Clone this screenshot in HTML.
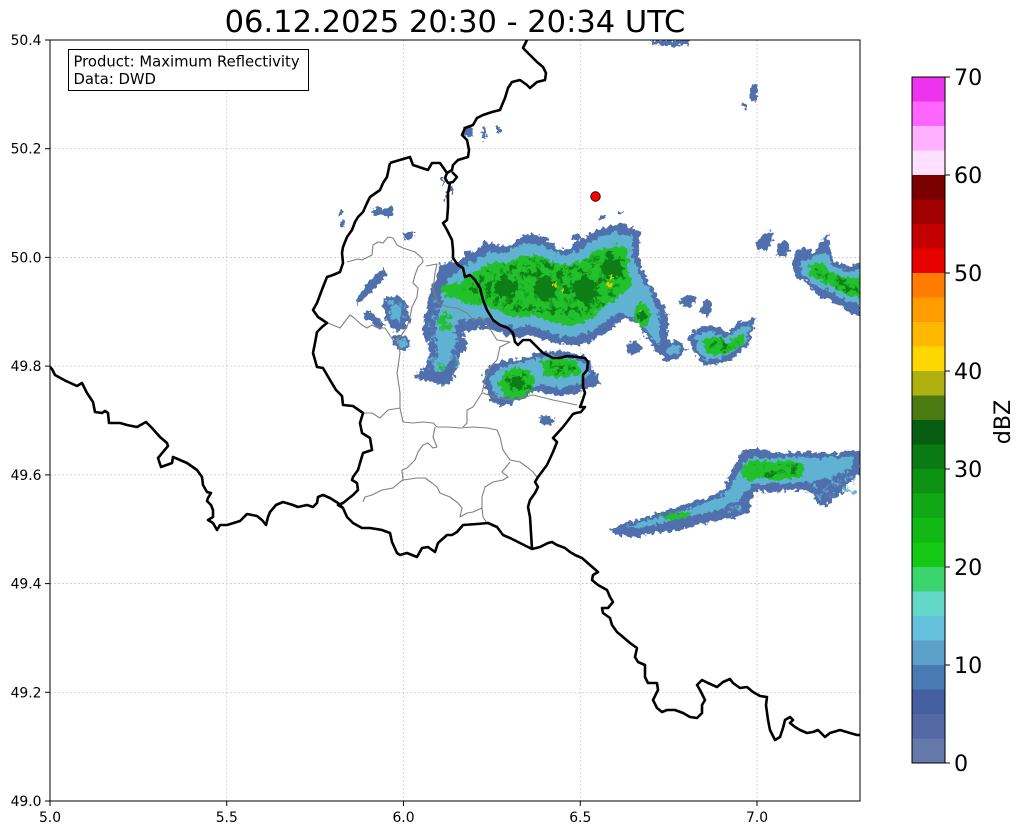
<!DOCTYPE html>
<html><head><meta charset="utf-8"><style>
html,body{margin:0;padding:0;background:#fff;}
svg{display:block;}
text{font-family:"DejaVu Sans","Liberation Sans",sans-serif;fill:#000;}
</style></head><body>
<svg width="1023" height="834" viewBox="0 0 1023 834" xmlns="http://www.w3.org/2000/svg">
<defs>
<filter id="rag" x="-5%" y="-5%" width="110%" height="110%">
<feTurbulence type="fractalNoise" baseFrequency="0.22" numOctaves="2" seed="4" result="n"/>
<feDisplacementMap in="SourceGraphic" in2="n" scale="9" xChannelSelector="R" yChannelSelector="G"/>
</filter>
<filter id="speck" x="0" y="0" width="100%" height="100%">
<feTurbulence type="fractalNoise" baseFrequency="0.14" numOctaves="2" seed="7" result="n"/>
<feColorMatrix in="n" type="matrix" values="0 0 0 0 0  0 0 0 0 0  0 0 0 0 0  7 0 0 0 -3.6" result="m"/>
<feComposite in="SourceGraphic" in2="m" operator="in"/>
</filter>
<filter id="speck2" x="0" y="0" width="100%" height="100%">
<feTurbulence type="fractalNoise" baseFrequency="0.16" numOctaves="2" seed="21" result="n"/>
<feColorMatrix in="n" type="matrix" values="0 0 0 0 0  0 0 0 0 0  0 0 0 0 0  7 0 0 0 -3.8" result="m"/>
<feComposite in="SourceGraphic" in2="m" operator="in"/>
</filter>
<clipPath id="ax"><rect x="50" y="40" width="810" height="761"/></clipPath>
</defs>
<rect width="1023" height="834" fill="#fff"/>
<text x="455" y="32" font-size="30.5" text-anchor="middle">06.12.2025 20:30 - 20:34 UTC</text>

<g clip-path="url(#ax)">
<!-- grid -->
<g stroke="#c4c4c4" stroke-width="0.7" stroke-dasharray="2,2" fill="none">
<line x1="226.75" y1="40" x2="226.75" y2="801"/><line x1="403.5" y1="40" x2="403.5" y2="801"/>
<line x1="580.25" y1="40" x2="580.25" y2="801"/><line x1="757" y1="40" x2="757" y2="801"/>
<line x1="50" y1="148.7" x2="860" y2="148.7"/><line x1="50" y1="257.4" x2="860" y2="257.4"/>
<line x1="50" y1="366.1" x2="860" y2="366.1"/><line x1="50" y1="474.9" x2="860" y2="474.9"/>
<line x1="50" y1="583.6" x2="860" y2="583.6"/><line x1="50" y1="692.3" x2="860" y2="692.3"/>
</g>

<!-- precipitation -->
<g filter="url(#rag)">
<g fill="#5070ac">
<polygon points="428,300 432,285 440,275 447,265 460,260 468,252 478,250 486,242 500,245 510,246 518,238 528,233 540,236 552,242 558,250 566,250 575,243 586,236 600,228 615,224 628,226 640,230 638,250 642,268 650,285 660,300 668,315 668,335 672,352 664,358 655,350 648,338 638,325 628,318 620,322 610,330 600,335 590,342 578,345 565,345 552,342 540,338 528,335 515,338 505,335 495,330 483,327 472,330 462,333 450,330 440,322 432,312"/>
<polygon points="483,373 490,366 507,360 527,357 533,353 553,350 573,353 587,357 593,367 600,383 593,388 583,390 573,393 560,397 547,393 537,390 527,397 513,403 500,407 490,400 485,387"/>
<polygon points="440,263 455,262 465,275 468,295 466,316 463,333 467,347 460,357 457,367 453,380 443,385 433,382 420,380 413,375 423,370 430,357 427,343 423,333 425,317 427,307 433,295 436,280"/>
<polygon points="386,298 400,296 407,305 410,318 406,328 398,331 390,327 384,317 384,305"/>
<polygon points="393,334 405,336 411,342 410,349 400,351 393,345"/>
<polygon points="355,300 362,292 368,284 377,274 385,268 386,276 378,285 372,291 363,300 357,304"/>
<polygon points="364,312 370,312 378,318 385,326 380,330 372,322 365,318"/>
<rect x="373" y="208" width="20" height="8"/><rect x="404" y="232" width="9" height="8"/>
<rect x="338" y="210" width="4" height="5"/><rect x="340" y="222" width="5" height="5"/>
<rect x="463" y="127" width="10" height="9"/><rect x="482" y="127" width="4" height="12"/><rect x="497" y="127" width="3" height="6"/>
<rect x="442" y="178" width="5" height="6"/><rect x="448" y="188" width="5" height="5"/><rect x="444" y="196" width="4" height="4"/>
<polygon points="650,40 690,40 688,44 672,47 660,45 652,44"/>
<polygon points="752,86 757,84 758,98 753,102 749,96"/><rect x="742" y="104" width="6" height="5"/>
<rect x="572" y="234" width="8" height="6"/><rect x="600" y="215" width="6" height="4"/><rect x="618" y="210" width="4" height="4"/>
<polygon points="755,243 763,233 772,232 773,240 767,250 758,250"/>
<polygon points="778,245 786,241 790,250 783,258 777,255"/>
<polygon points="793,257 797,250 807,247 813,253 823,240 828,233 830,247 833,260 847,267 860,262 860,317 850,313 840,307 830,300 820,297 813,290 807,282 800,280 793,273"/>
<polygon points="690,332 707,325 717,327 727,333 737,323 747,320 755,318 753,330 750,343 740,353 730,360 720,363 707,367 700,360 693,350 689,340"/>
<polygon points="660,347 672,341 680,340 687,350 677,360 663,360"/>
<polygon points="680,300 690,295 697,300 692,307 682,306"/>
<polygon points="702,302 710,300 712,310 707,318 701,312"/>
<polygon points="625,345 638,340 642,350 630,355"/>
<polygon points="538,418 548,416 556,419 552,424 540,425"/>
<polygon points="610,530 623,523 643,518 667,510 690,503 710,497 723,490 727,480 733,470 737,460 743,450 757,448 777,453 797,452 823,453 850,452 860,450 860,473 850,483 837,497 823,507 816,503 813,493 803,490 787,490 770,493 757,490 750,500 750,512 737,517 723,520 703,523 683,530 657,533 633,538 617,535"/>
</g>
<g fill="#5eb2d2">
<polygon points="440,295 447,280 460,268 475,260 490,252 505,253 520,245 535,243 550,250 565,256 580,250 597,238 615,232 632,236 632,255 640,275 650,292 658,310 660,330 660,345 650,335 635,318 620,312 605,322 590,332 575,337 560,336 545,330 530,326 515,328 500,324 485,318 470,320 455,320 445,312"/>
<polygon points="490,378 500,368 515,364 530,360 550,356 570,358 585,363 590,375 580,383 560,388 540,385 525,390 510,397 498,398 492,390"/>
<polygon points="444,304 454,302 459,314 455,330 456,344 450,358 444,370 437,372 433,366 438,352 436,338 436,322 439,312"/>
<ellipse cx="396" cy="312" rx="6" ry="8"/><ellipse cx="402" cy="343" rx="5" ry="4"/>
<polygon points="800,262 812,258 825,252 832,265 848,272 860,270 860,305 845,300 830,292 815,285 803,275"/>
<polygon points="696,335 710,330 725,338 740,328 750,325 746,342 735,352 720,358 706,360 697,350"/>
<ellipse cx="673" cy="350" rx="7" ry="5"/>
<polygon points="625,527 650,520 675,513 700,505 720,498 732,485 740,470 748,458 770,458 800,457 830,458 855,457 850,470 830,478 810,482 780,484 755,483 740,498 720,510 695,515 665,522 640,528"/>
</g>
<g fill="#22c02a">
<polygon points="455,292 465,278 480,268 495,262 510,262 525,255 540,255 553,262 568,266 582,260 598,250 615,245 628,250 628,268 632,285 618,298 605,305 592,318 578,325 562,325 548,320 532,315 515,318 500,312 485,305 470,305 460,302"/>
<polygon points="498,385 505,372 515,368 528,370 535,378 532,392 518,398 505,397"/>
<polygon points="540,360 560,358 578,362 582,372 565,378 545,375"/>
<ellipse cx="445" cy="322" rx="7" ry="9"/><ellipse cx="452" cy="290" rx="10" ry="8"/><ellipse cx="441" cy="366" rx="4" ry="3"/>
<ellipse cx="642" cy="315" rx="8" ry="12"/>
<polygon points="808,265 822,262 832,272 845,278 860,277 860,298 848,295 835,288 822,282 810,275"/>
<polygon points="702,340 715,336 728,342 742,334 745,342 735,350 722,355 708,354"/>
<polygon points="740,470 750,460 770,462 790,460 805,465 800,478 780,480 760,478 748,482"/>
<polygon points="660,516 680,512 692,512 688,518 670,520"/>
</g>
<!-- speckle: dark green within green areas -->
<g filter="url(#speck)" fill="#0c7e16">
<polygon points="462,290 470,280 485,270 500,265 525,258 545,260 570,268 598,255 620,250 625,270 625,285 612,298 595,312 575,320 550,315 530,310 510,312 490,302 470,300"/>
<polygon points="505,375 528,372 532,390 512,395"/>
<polygon points="545,362 575,364 576,372 550,373"/>
<polygon points="815,268 845,280 858,282 858,295 835,288 815,278"/>
<polygon points="708,342 740,336 738,348 712,352"/>
<polygon points="752,464 798,464 795,476 756,478"/>
</g>
<!-- speckle: cyan within blue -->
<g filter="url(#speck2)" fill="#5eb2d2">
<polygon points="388,300 406,302 406,326 390,325"/>
<polygon points="428,300 460,300 460,372 428,372"/>
<polygon points="805,482 855,474 855,496 822,502"/>
<polygon points="700,504 738,494 742,512 704,516"/>
</g>
<g fill="#0c7e16">
<ellipse cx="505" cy="288" rx="11" ry="9"/><ellipse cx="545" cy="288" rx="11" ry="12"/>
<ellipse cx="585" cy="290" rx="10" ry="14"/><ellipse cx="612" cy="268" rx="11" ry="10"/>
<ellipse cx="517" cy="383" rx="7" ry="7"/><ellipse cx="642" cy="316" rx="4" ry="6"/>
</g>
<g fill="#d8c800">
<rect x="554" y="283" width="3" height="3"/><rect x="561" y="289" width="3" height="3"/>
<rect x="607" y="284" width="3" height="3"/><rect x="611" y="277" width="3" height="3"/>
<rect x="640" y="309" width="3" height="3"/>
</g>
</g>

<!-- borders -->
<g fill="none" stroke="#808080" stroke-width="1.1" stroke-linejoin="round">
<polyline points="347,262 358,259 362,260 372,255 373,245 378,242 383,243 388,237 393,238 397,245 403,248 415,252 422,258 423,262 418,267 415,275 413,283 418,288 417,297 412,307 410,317 407,327 398,340 400,353 397,373 400,393 400,408"/>
<polyline points="328,323 340,328 350,315 353,317 362,325 367,328 372,325 378,328 385,328 393,340 398,340"/>
<polyline points="426,266 437,264 435,273 433,290 438,303 448,307 457,308 467,313 473,320 483,318 497,340 510,342 500,347 497,360 490,367 485,380 482,393 473,407 467,410 467,423 463,427"/>
<polyline points="400,408 388,410 380,418 372,413 363,413"/>
<polyline points="400,408 403,422 413,423 423,422 433,423 437,427 448,427 460,428 473,427 487,428 497,430 500,437 503,450 510,460 520,462 527,467 533,472 537,477"/>
<polyline points="435,427 433,437 437,447 433,448 428,443 423,445 418,452 415,460 407,468 402,470 403,480 400,482 393,488 382,490 372,495 365,497 363,502"/>
<polyline points="403,480 417,478 425,478 432,483 437,487 440,493 450,497 458,503 462,508 460,517 467,513 473,512 482,508 483,517 487,523"/>
<polyline points="482,508 482,497 485,487 493,482 503,480 508,477 502,472 510,462"/>
<polyline points="483,393 497,398 513,400 533,395 553,400 577,405"/>
</g>
<g fill="none" stroke="#000" stroke-width="2.6" stroke-linejoin="round">
<polyline points="50,367 52,369 55,375 66,381 77,386 82,383 87,393 93,402 95,412 102,413 105,411 108,413 109,423 120,423 127,425 137,427 146,422 152,428 160,437 167,443 168,446 163,452 158,458 161,467 172,463 173,457 187,463 197,470 202,477 203,485 207,492 211,493 208,498 207,501 211,505 213,510 213,517 208,520 213,523 217,530 220,525 227,525 240,521 247,514 257,516 262,520 266,525 268,517 270,512 276,505 283,502 293,505 298,507 307,505 313,507 317,503 318,497 323,495 330,498 338,503 343,508"/>
<polyline points="390,163 387,177 383,183 380,190 370,197 367,203 363,212 358,217 355,222 352,230 347,237 343,247 342,253 343,263 340,272 333,275 327,277 323,287 317,303 313,310 318,317 327,323 322,327 317,332 315,343 313,353 317,367 323,368 330,380 336,390 342,396 343,405 353,406 363,413 360,423 362,433 370,438 372,450 363,453 360,463 358,470 353,477 352,480 357,483 358,490 353,495 343,503 338,505 343,508 347,517 353,523 362,528 370,528 382,530 390,533 392,542 397,553 400,555 407,553 417,557 422,548 428,547 435,552 438,543 447,535 452,535 457,532 463,525 477,524 488,523 497,527 503,535 510,538 520,543 532,549 540,547 548,543 552,542 557,545 565,548 570,552 575,555 582,558 590,565 598,572 593,575 592,580 598,585 607,590 610,597 613,602 608,608 602,608 603,613 610,618 612,625 617,632 623,637 630,643 637,648 635,657 638,662 645,665 645,677 648,683 657,683 658,690 653,700 657,708 662,712 667,710 675,710 683,713 690,717 697,718 702,713 702,705 705,700 700,690 697,685 702,680 708,683 717,687 723,682 730,679 733,683 740,688 747,687 753,692 760,696 767,697 766,705 768,720 770,730 775,740 780,737 783,728 785,720 790,717 793,720 790,723 795,727 800,730 807,733 813,732 818,730 825,737 830,733 840,730 850,733 857,735 862,735"/>
<polyline points="390,163 393,162 410,157 413,165 428,170 432,163 440,163 447,173"/>
<polyline points="528,38 523,48 530,55 537,62 543,67 546,73 545,80 537,82 530,88 527,85 520,80 512,82 508,88 505,98 502,105 500,110 492,112 483,115 477,118 473,125 465,128 462,135 467,140 469,150 468,157 458,160 453,165 452,170 447,173 445,178 448,183 453,182 457,177 452,172"/>
<polyline points="450,183 448,193 448,207 447,220 443,223 447,230 452,240 453,250 453,258 458,265 463,268 465,277 470,275 475,280 480,288 483,300 487,310 493,320 500,325 508,328 513,333 515,342 518,345 523,340 530,340 537,347 543,353 553,358 560,358 567,356 577,357 585,358 588,362 587,370 583,375 583,387 585,393 582,402 580,407 585,407 581,412 576,413 573,414 563,427 553,438 557,442 553,452 547,465 538,477 535,482 538,487 535,493 530,500 528,507 530,517 532,549"/>
</g>
<circle cx="595.5" cy="196.5" r="4.8" fill="#ff0000" stroke="#000" stroke-width="0.8"/>
</g>

<!-- axes frame -->
<rect x="50" y="40" width="810" height="761" fill="none" stroke="#000" stroke-width="1"/>
<g stroke="#000" stroke-width="1">
<line x1="45" y1="40" x2="50" y2="40"/><line x1="45" y1="148.7" x2="50" y2="148.7"/><line x1="45" y1="257.4" x2="50" y2="257.4"/>
<line x1="45" y1="366.1" x2="50" y2="366.1"/><line x1="45" y1="474.9" x2="50" y2="474.9"/><line x1="45" y1="583.6" x2="50" y2="583.6"/>
<line x1="45" y1="692.3" x2="50" y2="692.3"/><line x1="45" y1="801" x2="50" y2="801"/>
<line x1="50" y1="801" x2="50" y2="806"/><line x1="226.75" y1="801" x2="226.75" y2="806"/><line x1="403.5" y1="801" x2="403.5" y2="806"/>
<line x1="580.25" y1="801" x2="580.25" y2="806"/><line x1="757" y1="801" x2="757" y2="806"/>
</g>
<g font-size="13.9" text-anchor="end">
<text x="41.5" y="45">50.4</text><text x="41.5" y="153.7">50.2</text><text x="41.5" y="262.4">50.0</text>
<text x="41.5" y="371.1">49.8</text><text x="41.5" y="479.9">49.6</text><text x="41.5" y="588.6">49.4</text>
<text x="41.5" y="697.3">49.2</text><text x="41.5" y="806">49.0</text>
</g>
<g font-size="13.9" text-anchor="middle">
<text x="50" y="822">5.0</text><text x="226.75" y="822">5.5</text><text x="403.5" y="822">6.0</text>
<text x="580.25" y="822">6.5</text><text x="757" y="822">7.0</text>
</g>

<!-- info box -->
<rect x="68.5" y="49.5" width="240" height="41" fill="#fff" stroke="#000" stroke-width="1"/>
<text x="73.5" y="66.5" font-size="14.8">Product: Maximum Reflectivity</text>
<text x="73.5" y="84.2" font-size="14.8">Data: DWD</text>

<!-- colorbar -->
<g>
<rect x="912" y="738.5" width="33" height="24.5" fill="#6478aa"/>
<rect x="912" y="714" width="33" height="24.5" fill="#5468a4"/>
<rect x="912" y="689.5" width="33" height="24.5" fill="#4460a0"/>
<rect x="912" y="665" width="33" height="24.5" fill="#4a7ab4"/>
<rect x="912" y="640.5" width="33" height="24.5" fill="#5aa0c8"/>
<rect x="912" y="616" width="33" height="24.5" fill="#64c0dc"/>
<rect x="912" y="591.5" width="33" height="24.5" fill="#64d8c8"/>
<rect x="912" y="567" width="33" height="24.5" fill="#3cd46e"/>
<rect x="912" y="542.5" width="33" height="24.5" fill="#14c814"/>
<rect x="912" y="518" width="33" height="24.5" fill="#12b814"/>
<rect x="912" y="493.5" width="33" height="24.5" fill="#10a814"/>
<rect x="912" y="469" width="33" height="24.5" fill="#0e9214"/>
<rect x="912" y="444.5" width="33" height="24.5" fill="#0a7a12"/>
<rect x="912" y="420" width="33" height="24.5" fill="#085e10"/>
<rect x="912" y="395.5" width="33" height="24.5" fill="#4a7a10"/>
<rect x="912" y="371" width="33" height="24.5" fill="#b0b010"/>
<rect x="912" y="346.5" width="33" height="24.5" fill="#ffd700"/>
<rect x="912" y="322" width="33" height="24.5" fill="#ffb800"/>
<rect x="912" y="297.5" width="33" height="24.5" fill="#ff9c00"/>
<rect x="912" y="273" width="33" height="24.5" fill="#ff7c00"/>
<rect x="912" y="248.5" width="33" height="24.5" fill="#e60000"/>
<rect x="912" y="224" width="33" height="24.5" fill="#c40000"/>
<rect x="912" y="199.5" width="33" height="24.5" fill="#a00000"/>
<rect x="912" y="175" width="33" height="24.5" fill="#7a0000"/>
<rect x="912" y="150.5" width="33" height="24.5" fill="#ffe0ff"/>
<rect x="912" y="126" width="33" height="24.5" fill="#ffb0ff"/>
<rect x="912" y="101.5" width="33" height="24.5" fill="#ff66ff"/>
<rect x="912" y="77" width="33" height="24.5" fill="#ee33ee"/>
<rect x="912" y="77" width="33" height="686" fill="none" stroke="#000" stroke-width="1"/>
</g>
<g stroke="#000" stroke-width="1">
<line x1="945" y1="763" x2="950" y2="763"/><line x1="945" y1="665" x2="950" y2="665"/><line x1="945" y1="567" x2="950" y2="567"/>
<line x1="945" y1="469" x2="950" y2="469"/><line x1="945" y1="371" x2="950" y2="371"/><line x1="945" y1="273" x2="950" y2="273"/>
<line x1="945" y1="175" x2="950" y2="175"/><line x1="945" y1="77" x2="950" y2="77"/>
</g>
<g font-size="22.2">
<text x="954" y="771">0</text><text x="954" y="673">10</text><text x="954" y="575">20</text><text x="954" y="477">30</text>
<text x="954" y="379">40</text><text x="954" y="281">50</text><text x="954" y="183">60</text><text x="954" y="85">70</text>
</g>
<text x="1010" y="422" font-size="22.2" text-anchor="middle" transform="rotate(-90 1010 422)">dBZ</text>
</svg>
</body></html>
